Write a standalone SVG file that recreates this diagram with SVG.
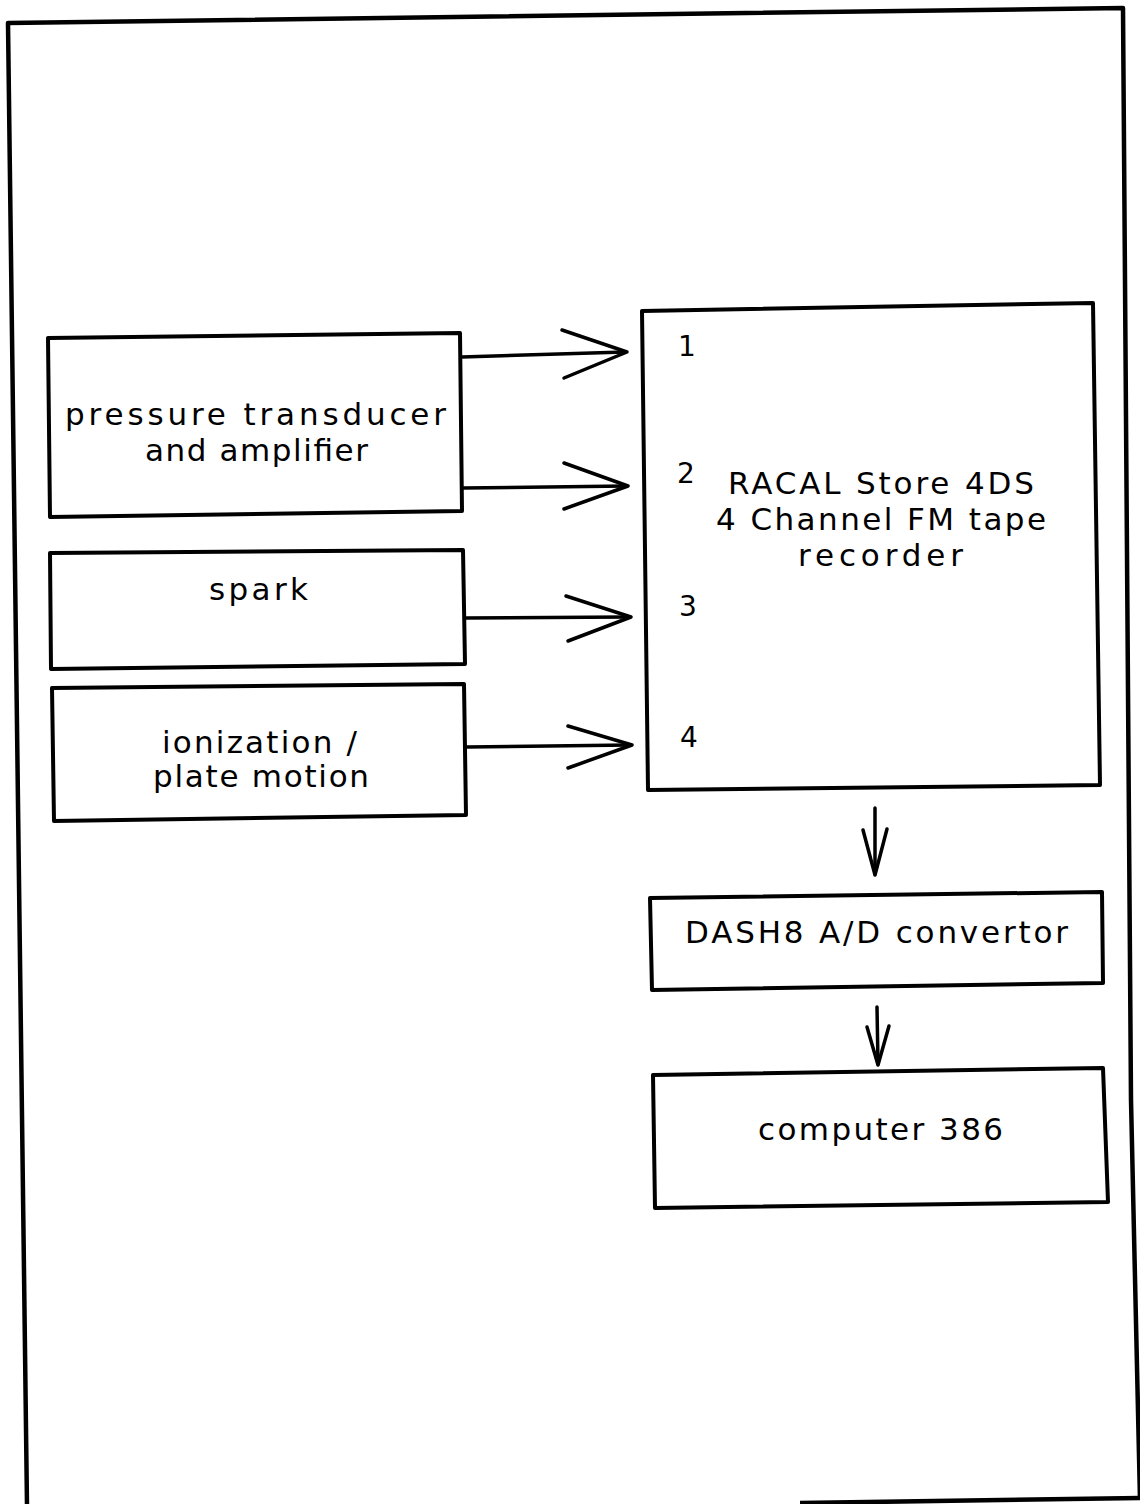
<svg xmlns="http://www.w3.org/2000/svg" width="1140" height="1504" viewBox="0 0 1140 1504">
<style>
.box{fill:none;stroke:#000;stroke-width:4;stroke-linejoin:round}
.frame{fill:none;stroke:#000;stroke-width:4.5;stroke-linejoin:round}
.ln{fill:none;stroke:#000;stroke-width:3.5;stroke-linecap:round;stroke-linejoin:round}
.t{font-family:"DejaVu Sans","Liberation Sans",sans-serif;font-size:31px;fill:#000}
.n{font-family:"DejaVu Sans","Liberation Sans",sans-serif;font-size:28px;fill:#000}
</style>
<rect width="1140" height="1504" fill="#fff"/>
<g id="frame">
<polyline class="frame" points="27,1506 8,23 1123,8 1131,1100 1140,1500"/>
<polyline class="frame" points="800,1503 1142,1498"/>
</g>
<g id="pressure">
<polygon class="box" points="48,338 460,333 462,511 50,517"/>
<text class="t" x="65" y="425" textLength="381" lengthAdjust="spacing">pressure transducer</text>
<text class="t" x="145" y="461" textLength="223" lengthAdjust="spacing">and amplifier</text>
</g>
<g id="spark">
<polygon class="box" points="50,553 463,550 465,664 51,669"/>
<text class="t" x="209" y="600" textLength="99" lengthAdjust="spacing">spark</text>
</g>
<g id="ionization">
<polygon class="box" points="52,688 464,684 466,815 54,821"/>
<text class="t" x="162" y="753" textLength="195" lengthAdjust="spacing">ionization /</text>
<text class="t" x="153" y="787" textLength="216" lengthAdjust="spacing">plate motion</text>
</g>
<g id="recorder">
<polygon class="box" points="642,311 1093,303 1100,785 648,790"/>
<text class="n" x="678" y="356">1</text>
<text class="n" x="677" y="483" font-size="25">2</text>
<text class="n" x="679" y="616">3</text>
<text class="n" x="680" y="747">4</text>
<text class="t" x="728" y="494" textLength="306" lengthAdjust="spacing">RACAL Store 4DS</text>
<text class="t" x="716" y="530" textLength="330" lengthAdjust="spacing">4 Channel FM tape</text>
<text class="t" x="798" y="566" textLength="165" lengthAdjust="spacing">recorder</text>
</g>
<g id="dash8">
<polygon class="box" points="650,898 1102,892 1103,983 652,990"/>
<text class="t" x="685" y="943" textLength="383" lengthAdjust="spacing">DASH8 A/D convertor</text>
</g>
<g id="computer">
<polygon class="box" points="653,1075 1103,1068 1108,1202 655,1208"/>
<text class="t" x="758" y="1140" textLength="245" lengthAdjust="spacing">computer 386</text>
</g>
<g id="connectors">
<line class="ln" x1="462" y1="357" x2="625" y2="352"/>
<polyline class="ln" points="562,330 627,352 564,378"/>
<line class="ln" x1="463" y1="488" x2="626" y2="486"/>
<polyline class="ln" points="564,463 628,486 564,509"/>
<line class="ln" x1="465" y1="618" x2="628" y2="617"/>
<polyline class="ln" points="566,596 631,617 568,641"/>
<line class="ln" x1="467" y1="747" x2="630" y2="745"/>
<polyline class="ln" points="568,726 632,745 568,768"/>
<line class="ln" x1="875" y1="808" x2="875" y2="874"/>
<polyline class="ln" points="863,830 875,875 887,829"/>
<line class="ln" x1="877" y1="1007" x2="878" y2="1064"/>
<polyline class="ln" points="867,1027 878,1065 889,1026"/>
</g>
</svg>
